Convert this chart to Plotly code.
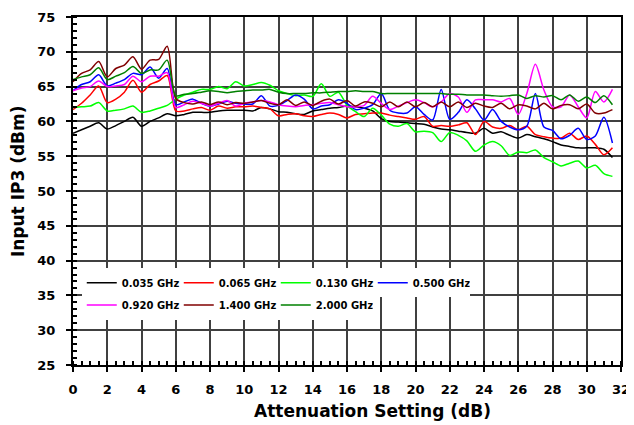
import plotly.graph_objects as go

atten = [i * 0.5 for i in range(64)]

names = ["0.035 GHz", "0.065 GHz", "0.130 GHz", "0.500 GHz", "0.920 GHz", "1.400 GHz", "2.000 GHz"]
colors = ["#000000", "#FF0000", "#00FF00", "#0000FF", "#FF00FF", "#800000", "#008000"]

ip3_0035 = [58.3, 58.8, 59.3, 59.8, 58.9, 59.4, 60.0, 60.6, 59.3, 60.0, 60.5, 61.1,
            60.8, 61.0, 61.3, 61.3, 61.3, 61.5, 61.6, 61.6, 61.6, 61.5, 62.0, 61.8,
            61.4, 61.3, 61.1, 61.0, 61.5, 61.7, 61.9, 62.0, 62.2, 62.1, 61.9, 61.5,
            60.4, 60.0, 59.9, 59.8, 59.7, 59.6, 59.2, 58.9, 58.8, 58.6, 58.4, 58.3,
            59.0, 58.3, 58.5, 58.0, 57.6, 58.1, 57.8, 57.5, 57.1, 56.6, 56.4, 56.2,
            56.2, 56.2, 56.0, 54.8]
ip3_0065 = [61.7, 62.6, 63.8, 65.1, 62.7, 63.2, 64.2, 65.9, 64.2, 65.3, 65.8, 66.6,
            61.5, 61.5, 61.8, 62.0, 61.6, 62.2, 61.9, 62.1, 62.1, 62.2, 62.0, 61.8,
            60.8, 61.0, 61.1, 60.8, 60.7, 61.0, 61.2, 61.0, 60.5, 61.0, 61.1, 61.2,
            61.2, 60.9, 60.7, 60.5, 60.3, 60.7, 59.3, 59.4, 59.3, 59.5, 59.8, 58.1,
            60.0, 59.2, 59.0, 59.4, 58.8, 59.3, 58.1, 57.8, 57.6, 57.6, 58.3, 57.4,
            57.9, 56.7, 55.2, 56.2]
ip3_0130 = [62.0, 62.1, 62.2, 62.7, 61.5, 61.6, 61.8, 62.2, 61.3, 61.5, 61.9, 62.3,
            63.2, 63.8, 64.2, 64.6, 64.6, 65.0, 64.7, 65.7, 65.1, 65.3, 65.6, 65.2,
            64.4, 64.0, 63.7, 63.8, 63.6, 65.4, 63.6, 64.2, 62.3, 61.4, 60.7, 61.9,
            60.9, 59.6, 59.3, 59.7, 58.5, 58.6, 58.4, 57.1, 58.4, 58.0, 57.2, 55.7,
            56.6, 57.1, 56.5, 55.1, 55.6, 55.5, 55.9, 54.8, 54.2, 53.6, 54.0, 54.3,
            53.3, 53.7, 52.5, 52.1]
ip3_0500 = [64.4, 65.3, 65.7, 66.7, 65.1, 65.5, 66.0, 66.9, 66.7, 67.8, 66.2, 67.6,
            62.4, 62.8, 63.2, 62.6, 62.2, 62.5, 62.9, 62.6, 62.5, 62.5, 63.7, 62.2,
            62.3, 63.0, 63.8, 63.2, 61.8, 62.2, 62.4, 63.1, 62.6, 61.7, 61.9, 62.4,
            64.0, 61.6, 61.2, 61.2, 62.1, 61.0, 60.2, 64.6, 60.3, 61.3, 63.1, 61.8,
            60.2, 61.7, 60.0, 59.2, 58.8, 59.3, 64.0, 59.2, 58.7, 57.5, 58.0, 59.0,
            57.4, 57.9, 60.6, 56.9]
ip3_0920 = [64.4, 64.8, 65.0, 65.8, 65.0, 65.1, 65.3, 66.5, 65.7, 66.5, 66.5, 67.0,
            62.0, 62.4, 62.9, 62.6, 62.2, 62.6, 63.0, 62.2, 62.6, 62.8, 63.0, 62.8,
            62.4, 62.2, 62.1, 62.3, 62.4, 62.6, 62.7, 62.4, 62.1, 62.1, 62.3, 63.6,
            62.6, 61.7, 62.2, 62.7, 63.1, 62.7, 62.1, 62.8, 64.0, 63.5, 61.3, 63.1,
            63.1, 63.1, 62.8, 63.3, 61.0, 64.0, 68.2, 64.5, 62.1, 62.1, 63.8, 62.1,
            60.5, 64.3, 62.8, 64.6]
ip3_1400 = [65.7, 66.9, 67.4, 68.6, 66.4, 67.6, 68.1, 69.3, 67.5, 68.8, 68.9, 70.8,
            63.3, 62.7, 62.5, 62.8, 62.4, 62.8, 62.4, 62.7, 62.6, 62.8, 63.0, 62.6,
            62.4, 63.1, 62.3, 62.8, 62.3, 62.9, 63.2, 62.5, 63.0, 62.2, 62.8, 62.6,
            62.1, 62.8, 62.1, 62.8, 62.1, 62.7, 62.1, 62.8, 62.1, 62.8, 62.0, 62.6,
            62.2, 62.0, 62.6, 61.8, 62.4, 62.2, 61.8, 62.6, 61.8, 62.3, 62.4, 61.8,
            62.5, 61.2, 61.2, 61.7]
ip3_2000 = [66.0, 66.4, 66.7, 67.7, 66.0, 66.5, 67.0, 67.9, 66.9, 67.4, 67.4, 68.8,
            63.7, 63.9, 64.0, 64.2, 64.4, 64.3, 64.1, 64.3, 64.4, 64.5, 64.5, 64.6,
            64.2, 64.0, 64.0, 64.0, 64.1, 64.1, 64.2, 64.3, 64.3, 64.4, 64.3, 64.3,
            64.0, 64.0, 64.0, 64.0, 64.0, 64.0, 64.0, 64.0, 63.9, 63.9, 63.8, 63.8,
            63.8, 63.7, 63.6, 63.7, 63.8, 63.3, 63.7, 63.5, 63.7, 63.1, 63.8, 62.9,
            63.5, 62.7, 63.7, 62.4]

series = [ip3_0035, ip3_0065, ip3_0130, ip3_0500, ip3_0920, ip3_1400, ip3_2000]

x_ticks = list(range(0, 33, 2))
y_ticks = list(range(25, 76, 5))

x_title = "Attenuation Setting (dB)"
y_title = "Input IP3 (dBm)"

FONT = "DejaVu Sans"

fig = go.Figure()
for i, (name, col, vals) in enumerate(zip(names, colors, series)):
    fig.add_trace(go.Scatter(
        x=atten, y=vals, name=name, mode="lines",
        line=dict(color=col, width=1.5, shape="spline", smoothing=0.8),
        legend="legend" if i < 4 else "legend2",
    ))

grid_col = "#404040"
fig.update_xaxes(
    range=[0, 32], tickvals=x_ticks, showgrid=True, gridcolor=grid_col, gridwidth=1.5,
    showline=True, linecolor="black", linewidth=2, mirror=True,
    ticks="outside", ticklen=5, tickcolor="black", tickwidth=1.5,
    ticklabelstandoff=6,
    minor=dict(dtick=0.5, ticks="inside", ticklen=4, tickcolor="black", showgrid=False),
    tickfont=dict(family=FONT, size=13, color="black", weight="bold"),
    zeroline=False,
)
fig.update_yaxes(
    range=[25, 75], tickvals=y_ticks, showgrid=True, gridcolor=grid_col, gridwidth=1.5,
    showline=True, linecolor="black", linewidth=2, mirror=True,
    ticks="outside", ticklen=5, tickcolor="black", tickwidth=1.5,
    ticklabelstandoff=8,
    minor=dict(dtick=1, ticks="inside", ticklen=4, tickcolor="black", showgrid=False),
    tickfont=dict(family=FONT, size=13, color="black", weight="bold"),
    zeroline=False,
)

title_font = dict(family=FONT, size=17, color="black", weight="bold")
fig.add_annotation(text=x_title, xref="paper", yref="paper", x=0.547, y=-0.132,
                   xanchor="center", yanchor="middle", showarrow=False, font=title_font)
fig.add_annotation(text=y_title, xref="paper", yref="paper", x=-0.1, y=0.529,
                   xanchor="center", yanchor="middle", showarrow=False, textangle=-90,
                   font=title_font)

leg_common = dict(
    orientation="h", xanchor="left", yanchor="top", bgcolor="white",
    font=dict(family=FONT, size=10, color="black", weight="bold"),
    entrywidth=52, itemwidth=30, borderwidth=0,
)
fig.update_layout(
    width=626, height=417,
    margin=dict(l=65, r=13, t=9, b=60, autoexpand=False),
    paper_bgcolor="white", plot_bgcolor="white",
    font=dict(family=FONT, color="black"),
    showlegend=True,
    legend=dict(x=0.016, y=0.278, **leg_common),
    legend2=dict(x=0.016, y=0.214, **leg_common),
)

fig.write_html("out.html")
